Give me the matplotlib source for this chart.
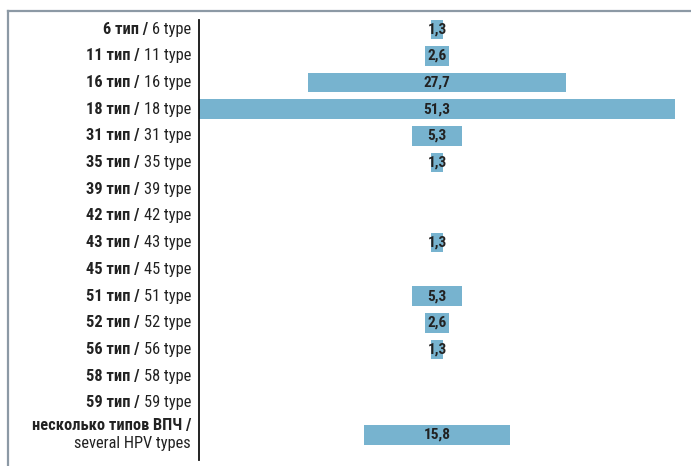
import matplotlib
matplotlib.use("Agg")
import matplotlib.pyplot as plt
from matplotlib import font_manager
from matplotlib.lines import Line2D
import numpy as np

bold_parts = ["6 тип /", "11 тип /", "16 тип /", "18 тип /", "31 тип /", "35 тип /",
              "39 тип /", "42 тип /", "43 тип /", "45 тип /", "51 тип /", "52 тип /",
              "56 тип /", "58 тип /", "59 тип /", "несколько типов ВПЧ /"]
regular_parts = ["6 type", "11 type", "16 type", "18 type", "31 type", "35 type",
                 "39 type", "42 type", "43 type", "45 type", "51 type", "52 type",
                 "56 type", "58 type", "59 type", "several HPV types"]
values = [1.3, 2.6, 27.7, 51.3, 5.3, 1.3, 0, 0, 1.3, 0, 5.3, 2.6, 1.3, 0, 0, 15.8]

avail = {f.name for f in font_manager.fontManager.ttflist}
fam = "DejaVu Sans"
for cand in ["Liberation Sans Narrow", "Roboto Condensed", "Open Sans Condensed", "Liberation Sans"]:
    if cand in avail:
        fam = cand
        break
plt.rcParams['font.family'] = [fam, 'DejaVu Sans']

W, H = 691, 466
fig = plt.figure(figsize=(W/100, H/100), dpi=100)
fig.patch.set_facecolor('white')

# axes in pixels: x 199..691, y 20..460
ax = fig.add_axes([199/W, 1-460/H, (691-199)/W, (460-20)/H])
half = max(values)/2
ppu = (675-199)/max(values)
xr = (691-437)/ppu
ax.set_xlim(-half, xr)
n = len(values)
ypos = np.arange(n, dtype=float)
ypos[-1] = 15.2
ax.set_ylim(16.14, -0.34)

color = '#77B3CF'
for y, v in zip(ypos, values):
    if v > 0:
        ax.barh(y, v, left=-v/2, height=0.73, color=color, edgecolor='none')
        ax.text(0, y, f"{v:.1f}".replace('.', ','), ha='center', va='center',
                fontsize=11, fontweight='bold', color='#222222')

for s in ['top', 'right', 'bottom']:
    ax.spines[s].set_visible(False)
ax.spines['left'].set_linewidth(1.3)
ax.spines['left'].set_color('#111111')
ax.set_xticks([])
ax.set_yticks([])

trans = ax.get_yaxis_transform()
xlab = -(199-191)/(691-199)
fs = 11.8
for i, (b, r) in enumerate(zip(bold_parts, regular_parts)):
    if i < n-1:
        t = ax.text(xlab, ypos[i], r, transform=trans, ha='right', va='center',
                    fontsize=fs, color='#222222')
        ax.annotate(b, xy=(0, 0), xycoords=t, xytext=(-3, 0), textcoords='offset points',
                    ha='right', va='bottom', fontsize=fs, fontweight='bold', color='#222222')
    else:
        ax.text(xlab, ypos[i]-0.36, b, transform=trans, ha='right', va='center',
                fontsize=fs, fontweight='bold', color='#222222')
        ax.text(xlab, ypos[i]+0.33, r, transform=trans, ha='right', va='center',
                fontsize=fs, color='#222222')

# frame lines
fc = '#8C99A5'
fig.add_artist(Line2D([8/W, 1], [1-11/H, 1-11/H], transform=fig.transFigure, color=fc, lw=1.6))
fig.add_artist(Line2D([8/W, 8/W], [1-11/H, 0], transform=fig.transFigure, color=fc, lw=1.6))

fig.savefig("out.png", dpi=100, facecolor='white')
